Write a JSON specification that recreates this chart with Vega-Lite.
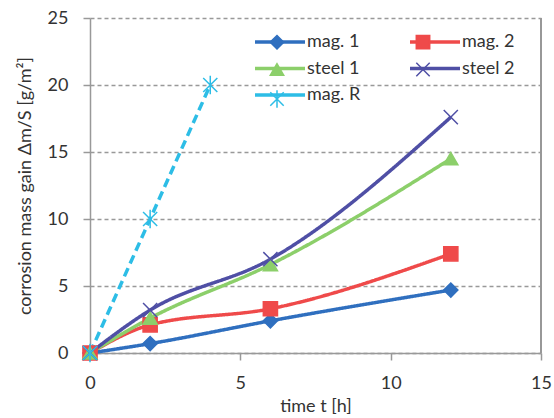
{
  "$schema": "https://vega.github.io/schema/vega-lite/v6.json",
  "width": 451,
  "height": 335,
  "autosize": {"type": "none"},
  "padding": {"left": 90, "top": 18, "right": 13, "bottom": 65},
  "background": "white",
  "config": {
    "view": {"stroke": null},
    "font": "Lato",
    "axis": {
      "domainColor": "#999999",
      "domainWidth": 1.5,
      "tickColor": "#999999",
      "tickWidth": 1.5,
      "tickSize": 7,
      "labelFlush": false,
      "labelFont": "Lato",
      "labelFontSize": 18,
      "labelColor": "#333333",
      "titleFont": "Lato",
      "titleFontSize": 18,
      "titleFontWeight": "normal",
      "titleColor": "#333333"
    }
  },
  "data": {
    "values": [
      {"series": "mag. 1", "t": 0, "m": 0},
      {"series": "mag. 1", "t": 2, "m": 0.7},
      {"series": "mag. 1", "t": 6, "m": 2.4},
      {"series": "mag. 1", "t": 12, "m": 4.7},
      {"series": "mag. 2", "t": 0, "m": 0},
      {"series": "mag. 2", "t": 2, "m": 2.1},
      {"series": "mag. 2", "t": 6, "m": 3.3},
      {"series": "mag. 2", "t": 12, "m": 7.4},
      {"series": "steel 1", "t": 0, "m": 0},
      {"series": "steel 1", "t": 2, "m": 2.6},
      {"series": "steel 1", "t": 6, "m": 6.6},
      {"series": "steel 1", "t": 12, "m": 14.5},
      {"series": "steel 2", "t": 0, "m": 0},
      {"series": "steel 2", "t": 2, "m": 3.2},
      {"series": "steel 2", "t": 6, "m": 7.0},
      {"series": "steel 2", "t": 12, "m": 17.6},
      {"series": "mag. R", "t": 0, "m": 0},
      {"series": "mag. R", "t": 2, "m": 10},
      {"series": "mag. R", "t": 4, "m": 20}
    ]
  },
  "encoding": {
    "x": {
      "field": "t",
      "type": "quantitative",
      "scale": {"domain": [0, 15], "nice": false},
      "axis": {"values": [0, 5, 10, 15], "grid": false, "title": "time  t [h]", "labelPadding": 14, "titlePadding": 5}
    },
    "y": {
      "field": "m",
      "type": "quantitative",
      "scale": {"domain": [0, 25], "nice": false},
      "axis": {
        "values": [0, 5, 10, 15, 20, 25],
        "grid": true,
        "gridColor": "#999999",
        "gridDash": [4, 3],
        "gridWidth": 1.3,
        "title": "corrosion mass gain Δm/S  [g/m²]",
        "labelPadding": 15,
        "titlePadding": 13
      }
    }
  },
  "layer": [
    {
      "mark": {"type": "rule", "color": "#999999", "strokeWidth": 1.5},
      "encoding": {"x": {"datum": 15}, "y": null}
    },
    {
      "mark": {"type": "line", "strokeWidth": 3.5, "interpolate": "monotone"},
      "encoding": {
        "color": {
          "field": "series",
          "type": "nominal",
          "sort": ["mag. 1", "mag. 2", "steel 1", "steel 2", "mag. R"],
          "scale": {
            "range": ["#2f6fbf", "#ef4a4a", "#8ccf6a", "#4f4fa5", "#2dbde6"]
          },
          "legend": {
            "title": null,
            "orient": "none",
            "direction": "horizontal",
            "legendX": 181,
            "legendY": 15,
            "columns": 2,
            "symbolType": "M-5,0L5,0",
            "symbolSize": 100,
            "symbolStrokeWidth": 3.5,
            "labelFontSize": 18,
            "labelColor": "#333333",
            "labelOffset": 18,
            "columnPadding": 42,
            "rowPadding": 8.5
          }
        },
        "strokeDash": {
          "condition": {"test": "datum.series === 'mag. R'", "value": [9, 5]},
          "value": [1, 0]
        }
      }
    },
    {
      "mark": {"type": "point", "opacity": 1, "strokeWidth": 1.5},
      "encoding": {
        "fill": {
          "field": "series",
          "type": "nominal",
          "scale": {
            "domain": ["mag. 1", "mag. 2", "steel 1", "steel 2", "mag. R"],
            "range": ["#2f6fbf", "#ef4a4a", "#8ccf6a", "#4f4fa5", "#2dbde6"]
          },
          "legend": {
            "title": null,
            "orient": "none",
            "direction": "horizontal",
            "legendX": 178,
            "legendY": 15,
            "columns": 2,
            "symbolSize": 180,
            "symbolStrokeWidth": 1.5,
            "labelFontSize": 18,
            "labelOpacity": 0,
            "labelOffset": 4,
            "columnPadding": 69,
            "rowPadding": 7.5
          }
        },
        "stroke": {
          "field": "series",
          "type": "nominal",
          "scale": {
            "domain": ["mag. 1", "mag. 2", "steel 1", "steel 2", "mag. R"],
            "range": ["#2f6fbf", "#ef4a4a", "#8ccf6a", "#4f4fa5", "#2dbde6"]
          }
        },
        "shape": {
          "field": "series",
          "type": "nominal",
          "scale": {
            "domain": ["mag. 1", "mag. 2", "steel 1", "steel 2", "mag. R"],
            "range": [
              "diamond",
              "square",
              "triangle-up",
              "M-1,-1L1,1M-1,1L1,-1",
              "M-1,-1L1,1M-1,1L1,-1M0,-1.3L0,1.3"
            ]
          }
        },
        "size": {"value": 200}
      }
    }
  ]
}
